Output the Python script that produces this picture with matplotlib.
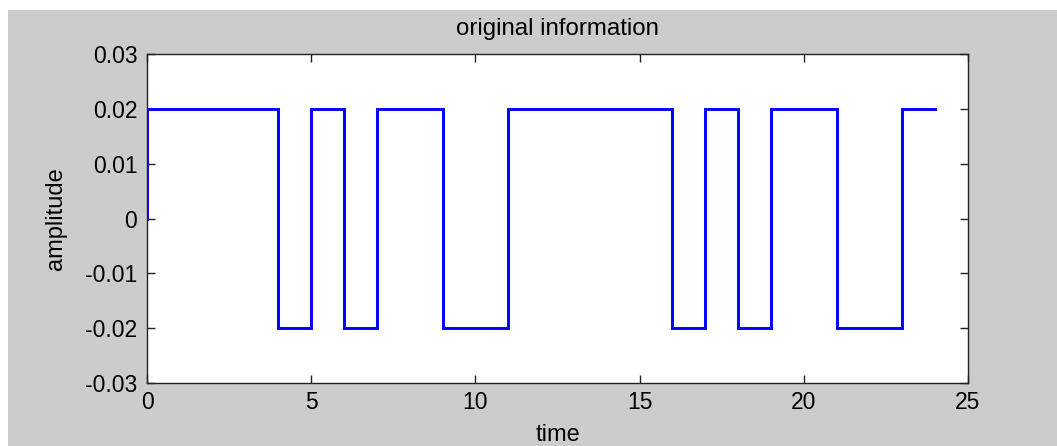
import numpy as np
import matplotlib
matplotlib.use("Agg")
import matplotlib.pyplot as plt
from matplotlib.patches import Rectangle

# Bit stream, one bit per unit of time, and the signal amplitude
bits = [1, 1, 1, 1, 0, 1, 0, 1, 1, 0, 0, 1, 1, 1, 1, 1, 0, 1, 0, 1, 1, 0, 0, 1]
amplitude = 0.02
x_ticks = [0, 5, 10, 15, 20, 25]
y_ticks = [-0.03, -0.02, -0.01, 0, 0.01, 0.02, 0.03]
y_tick_labels = ["-0.03", "-0.02", "-0.01", "0", "0.01", "0.02", "0.03"]

# Polar NRZ waveform: each bit held for one time unit, starting from zero
levels = amplitude * (2 * np.array(bits) - 1)
edges = np.arange(len(bits) + 1)
t = np.concatenate([[0.0], np.column_stack([edges[:-1], edges[1:]]).ravel()])
y = np.concatenate([[0.0], np.repeat(levels, 2)])

plt.rcParams["font.family"] = ["Liberation Sans", "DejaVu Sans"]
plt.rcParams["font.size"] = 16.5

W, H = 1057, 446
fig = plt.figure(figsize=(W / 100, H / 100), dpi=100, facecolor="white")
fig.add_artist(Rectangle((8 / W, 0), 1 - 8 / W, 1 - 10 / H, transform=fig.transFigure,
                         facecolor="#cccccc", edgecolor="none", zorder=-10))

ax = fig.add_axes([147 / W, 1 - 383 / H, (968 - 147) / W, (383 - 54) / H])
ax.set_facecolor("white")
ax.plot(t, y, color="#0000ff", lw=2.1, solid_joinstyle="miter")

ax.set_xlim(0, 25)
ax.set_ylim(-0.03, 0.03)
ax.set_xticks(x_ticks)
ax.set_yticks(y_ticks)
ax.set_yticklabels(y_tick_labels)
ax.tick_params(direction="in", length=6, width=1.0, color="#222222",
               top=True, right=True, labelcolor="black")
ax.tick_params(axis="y", pad=7)
ax.tick_params(axis="x", pad=5.5)
for s in ax.spines.values():
    s.set_color("#222222")
    s.set_linewidth(1.0)

ax.set_title("original information", pad=13.5, fontsize=17.3)
ax.set_xlabel("time", fontsize=17)
ax.set_ylabel("amplitude", fontsize=17)
ax.xaxis.set_label_coords(0.5, -0.125)
ax.yaxis.set_label_coords(-0.097, 0.5)

fig.savefig("out.png", dpi=100, facecolor=fig.get_facecolor())
